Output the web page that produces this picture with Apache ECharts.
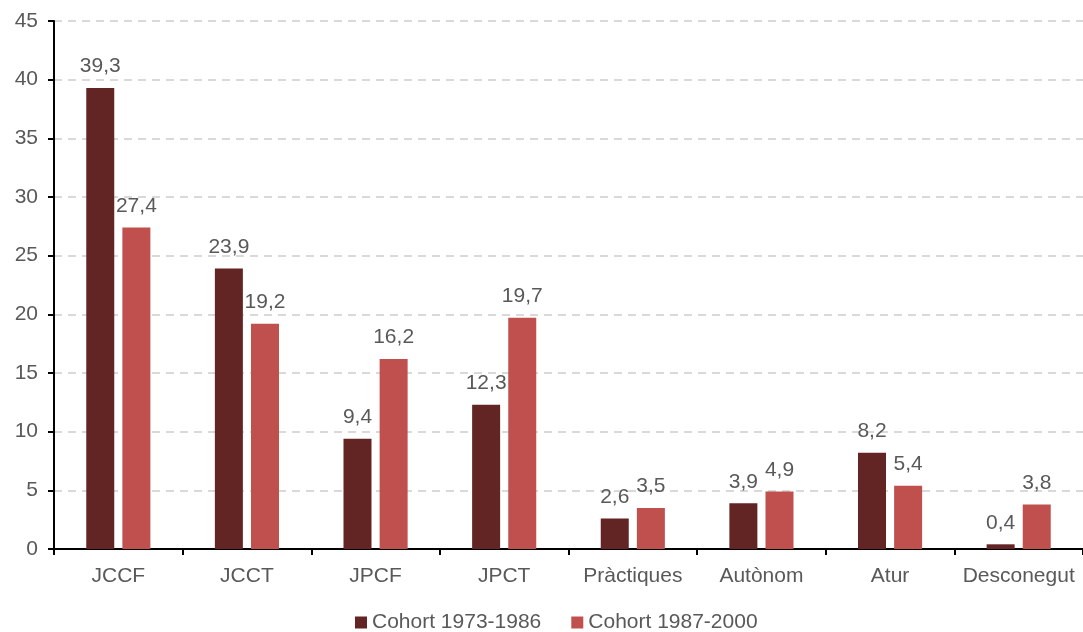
<!DOCTYPE html>
<html>
<head>
<meta charset="utf-8">
<script src="https://cdn.jsdelivr.net/npm/echarts@6/dist/echarts.min.js"></script>
<style>
   html, body { margin: 0; padding: 0; background: #fff; }
   #chart { width: 1083px; height: 632px; }
</style>
</head>
<body>
<div id="chart"></div>
<script>
// categories and values
const categories = ['JCCF', 'JCCT', 'JPCF', 'JPCT', 'Pràctiques', 'Autònom', 'Atur', 'Desconegut']
const cohortOld = [39.3, 23.9, 9.4, 12.3, 2.6, 3.9, 8.2, 0.4]
const cohortNew = [27.4, 19.2, 16.2, 19.7, 3.5, 4.9, 5.4, 3.8]
const seriesNames = ['Cohort 1973-1986', 'Cohort 1987-2000']

const textColor = '#595959'
const fontFamily = '"Liberation Sans", Arial, sans-serif'

let myChart = echarts.init(document.getElementById('chart'))

const label = {
   show: true,
   position: 'top',
   distance: 11,
   color: textColor,
   fontSize: 21,
   fontFamily: fontFamily,
   formatter: p => String(p.value).replace('.', ',')
}

let option = {
   animation: false,
   textStyle: { fontFamily: fontFamily },
   grid: {
      left: 54,
      right: 0,
      top: 21,
      bottom: 83
   },
   legend: {
      top: 612,
      left: 355,
      padding: 0,
      itemWidth: 12,
      itemHeight: 12,
      itemGap: 30,
      icon: 'rect',
      textStyle: { color: textColor, fontSize: 21, fontFamily: fontFamily },
      data: seriesNames
   },
   xAxis: {
      type: 'category',
      data: categories,
      axisLine: { lineStyle: { color: '#000', width: 2 } },
      axisTick: { show: true, interval: 0, length: 6, lineStyle: { color: '#000', width: 2 } },
      axisLabel: { interval: 0, color: textColor, fontSize: 21, margin: 17, fontFamily: fontFamily }
   },
   yAxis: {
      type: 'value',
      min: 0,
      max: 45,
      interval: 5,
      axisLine: { show: true, lineStyle: { color: '#000', width: 2 } },
      axisTick: { show: true, length: 6, lineStyle: { color: '#000', width: 2 } },
      axisLabel: { color: textColor, fontSize: 21, margin: 16, fontFamily: fontFamily },
      splitLine: { lineStyle: { color: '#d9d9d9', type: [8, 6], width: 2 } }
   },
   series: [
      {
         name: seriesNames[0],
         type: 'bar',
         data: cohortOld,
         barWidth: 28,
         barGap: '29%',
         itemStyle: { color: '#632523' },
         label: label
      },
      {
         name: seriesNames[1],
         type: 'bar',
         data: cohortNew,
         barWidth: 28,
         itemStyle: { color: '#C0504D' },
         label: label
      }
   ]
}

myChart.setOption(option)
</script>
</body>
</html>
